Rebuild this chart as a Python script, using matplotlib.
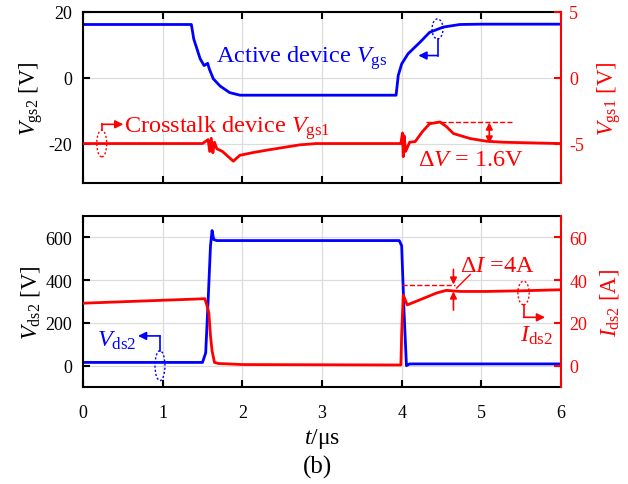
import numpy as np
import matplotlib.pyplot as plt
from matplotlib.patches import Ellipse

plt.rcParams['font.family'] = ['Liberation Serif', 'DejaVu Serif']
plt.rcParams['mathtext.fontset'] = 'custom'
plt.rcParams['mathtext.rm'] = 'Liberation Serif'
plt.rcParams['mathtext.it'] = 'Liberation Serif:italic'
plt.rcParams['axes.unicode_minus'] = False

# ---------------------------------------------------------------------------
# Waveforms (time in us)
# ---------------------------------------------------------------------------
# top: active device Vgs2 (left axis, V)
t_vgs2 = [0, 1.36, 1.39, 1.47, 1.52, 1.565, 1.585, 1.635, 1.72, 1.84, 1.97, 2.2,
          3.93, 3.957, 4.0, 4.08, 4.23, 4.35, 4.52, 4.73, 5.0, 6.0]
vgs2 = [16.2, 16.2, 11.8, 5.8, 3.7, 4.4, 2.7, -0.3, -2.5, -4.5, -5.3, -5.3,
        -5.3, 0.7, 4.2, 7.3, 10.8, 13.8, 15.4, 16.2, 16.3, 16.3]

# top: crosstalk device Vgs1 (right axis, V)
t_vgs1 = [0, 1.5, 1.57, 1.59, 1.61, 1.63, 1.65, 1.68, 1.75, 1.886, 1.97, 2.14, 2.31,
          2.72, 2.93, 3.5, 3.99, 4.01, 4.02, 4.03, 4.05, 4.1, 4.17, 4.26, 4.35,
          4.48, 4.56, 4.65, 4.86, 5.06, 5.27, 6.0]
vgs1 = [-5.0, -5.0, -4.7, -5.6, -4.6, -5.7, -4.9, -5.4, -5.6, -6.34, -5.89, -5.68, -5.5,
        -5.1, -5.0, -5.0, -5.0, -4.2, -6.0, -4.4, -5.6, -4.9, -4.85, -4.1, -3.5,
        -3.36, -3.7, -4.24, -4.62, -4.82, -4.9, -5.0]

# bottom: Vds2 (left axis, V)
t_vds2 = [0, 1.50, 1.54, 1.57, 1.60, 1.62, 1.64, 1.68, 3.97, 4.0, 4.03, 4.06, 4.10, 6.0]
vds2 = [15, 15, 60, 300, 560, 632, 590, 585, 585, 560, 250, 0, 8, 8]

# bottom: Ids2 (right axis, A)
t_ids2 = [0, 1.53, 1.56, 1.58, 1.60, 1.62, 1.65, 1.7, 2.0, 3.99, 4.0, 4.02, 4.07,
          4.23, 4.44, 4.56, 4.73, 5.06, 5.5, 6.0]
ids2 = [29.2, 31.3, 27.6, 24.5, 14, 7, 1.5, 1.0, 0.5, 0.3, 15, 33, 28.4,
        30.8, 34.0, 35.2, 34.7, 34.7, 35.0, 35.5]

xticks = [0, 1, 2, 3, 4, 5, 6]
blue, red = '#0000ff', '#ff0000'
tick_fs, label_fs, note_fs = 13, 16.5, 17.5

fig = plt.figure(figsize=(6.28, 4.85), dpi=100)
ax_top = fig.add_axes([0.1322, 0.6206, 0.7611, 0.3526])
ax_bot = fig.add_axes([0.1322, 0.2, 0.7611, 0.3526])


def style_axes(ax, ax_r):
    ax.set_xlim(0, 6)
    ax.set_xticks(xticks)
    ax.grid(True, color='#dcdcdc', lw=0.9)
    ax.set_axisbelow(True)
    for s in ['left', 'top', 'bottom']:
        ax.spines[s].set_linewidth(1.5)
    ax.spines['right'].set_visible(False)
    ax.tick_params(direction='in', length=5, width=1.5, top=True,
                   labelsize=tick_fs)
    ax.tick_params(axis='y', pad=8)
    ax.tick_params(axis='x', pad=12)
    for s in ['left', 'top', 'bottom']:
        ax_r.spines[s].set_visible(False)
    ax_r.spines['right'].set_color(red)
    ax_r.spines['right'].set_linewidth(1.5)
    ax_r.tick_params(axis='y', direction='in', length=5, width=1.5,
                     colors=red, labelsize=tick_fs, pad=6)


# ---------------- top panel ----------------
ax_top_r = ax_top.twinx()
style_axes(ax_top, ax_top_r)
ax_top.set_ylim(-32, 20)
ax_top.set_yticks([-20, 0, 20])
ax_top_r.set_ylim(-8, 5)
ax_top_r.set_yticks([-5, 0, 5])
ax_top.tick_params(axis='x', labelbottom=False)

ax_top.plot(t_vgs2, vgs2, color=blue, lw=2)
ax_top_r.plot(t_vgs1, vgs1, color=red, lw=2)

ax_top.set_ylabel(r'$V_{\mathrm{gs2}}$ [V]', fontsize=label_fs, labelpad=2)
ax_top_r.set_ylabel(r'$V_{\mathrm{gs1}}$ [V]', fontsize=label_fs, color=red,
                    labelpad=8)

ax_top.text(1.675, 5.0, r'Active device $V_{\mathrm{gs}}$', color=blue,
            fontsize=note_fs)
ax_top.add_patch(Ellipse((4.45, 14.85), 0.138, 6.1, fill=False, ec=blue,
                         ls=(0, (1.5, 1.5)), lw=1))
ax_top.plot([4.45, 4.45], [11.8, 6.76], color=blue, lw=1.2)
ax_top.annotate('', xy=(4.21, 6.76), xytext=(4.45, 6.76),
                arrowprops=dict(arrowstyle='-|>', color=blue, lw=1.2,
                                mutation_scale=12, shrinkA=0, shrinkB=0))

ax_top.text(0.52, -16.4, r'Crosstalk device $V_{\mathrm{gs1}}$', color=red,
            fontsize=note_fs)
ax_top.add_patch(Ellipse((0.235, -20), 0.125, 8.1, fill=False, ec=red,
                         ls=(0, (1.5, 1.5)), lw=1))
ax_top.plot([0.235, 0.235], [-16.0, -14.15], color=red, lw=1.2)
ax_top.annotate('', xy=(0.506, -14.15), xytext=(0.235, -14.15),
                arrowprops=dict(arrowstyle='-|>', color=red, lw=1.2,
                                mutation_scale=12, shrinkA=0, shrinkB=0))

ax_top_r.plot([4.3, 5.38], [-3.4, -3.4], color=red, lw=1, ls='--')
ax_top_r.annotate('', xy=(5.1, -3.4), xytext=(5.1, -5.0),
                  arrowprops=dict(arrowstyle='<|-|>', color=red, lw=1.2,
                                  mutation_scale=10, shrinkA=0, shrinkB=0))
ax_top_r.text(4.2, -6.65, r'$\Delta V$ = 1.6V', color=red, fontsize=note_fs)

# ---------------- bottom panel ----------------
ax_bot_r = ax_bot.twinx()
style_axes(ax_bot, ax_bot_r)
ax_bot.set_ylim(-100, 700)
ax_bot.set_yticks([0, 200, 400, 600])
ax_bot_r.set_ylim(-10, 70)
ax_bot_r.set_yticks([0, 20, 40, 60])

ax_bot.plot(t_vds2, vds2, color=blue, lw=2)
ax_bot_r.plot(t_ids2, ids2, color=red, lw=2)

ax_bot.set_ylabel(r'$V_{\mathrm{ds2}}$ [V]', fontsize=label_fs, labelpad=2)
ax_bot_r.set_ylabel(r'$I_{\mathrm{ds2}}$ [A]', fontsize=label_fs, color=red,
                    labelpad=8)
ax_bot.set_xlabel(r'$t$/μs', fontsize=17, labelpad=4)

ax_bot.add_patch(Ellipse((0.966, 0), 0.125, 140, fill=False, ec=blue,
                         ls=(0, (1.5, 1.5)), lw=1))
ax_bot.plot([0.966, 0.966], [70, 139], color=blue, lw=1.2)
ax_bot.annotate('', xy=(0.69, 139), xytext=(0.966, 139),
                arrowprops=dict(arrowstyle='-|>', color=blue, lw=1.2,
                                mutation_scale=12, shrinkA=0, shrinkB=0))
ax_bot.text(0.67, 95, r'$V_{\mathrm{ds2}}$', color=blue, fontsize=note_fs,
            ha='right')

ax_bot_r.plot([4.01, 4.67], [37.9, 37.9], color=red, lw=1, ls='--')
ax_bot_r.annotate('', xy=(4.65, 37.9), xytext=(4.65, 45),
                  arrowprops=dict(arrowstyle='-|>', color=red, lw=1.2,
                                  mutation_scale=10, shrinkA=0, shrinkB=0))
ax_bot_r.annotate('', xy=(4.65, 34.7), xytext=(4.65, 26),
                  arrowprops=dict(arrowstyle='-|>', color=red, lw=1.2,
                                  mutation_scale=10, shrinkA=0, shrinkB=0))
ax_bot_r.plot([4.69, 4.86], [36.3, 42.6], color=red, lw=1)
ax_bot_r.text(4.73, 44.2, r'$\Delta I$ =4A', color=red, fontsize=note_fs)

ax_bot_r.add_patch(Ellipse((5.53, 34), 0.142, 11, fill=False, ec=red,
                           ls=(0, (1.5, 1.5)), lw=1))
ax_bot_r.plot([5.53, 5.53], [28.5, 22.6], color=red, lw=1.2)
ax_bot_r.annotate('', xy=(5.8, 22.6), xytext=(5.53, 22.6),
                  arrowprops=dict(arrowstyle='-|>', color=red, lw=1.2,
                                  mutation_scale=12, shrinkA=0, shrinkB=0))
ax_bot_r.text(5.48, 11.8, r'$I_{\mathrm{ds2}}$', color=red, fontsize=note_fs)

fig.text(0.505, 0.036, '(b)', fontsize=18, ha='center', va='center')

fig.savefig('out.png', dpi=100)
